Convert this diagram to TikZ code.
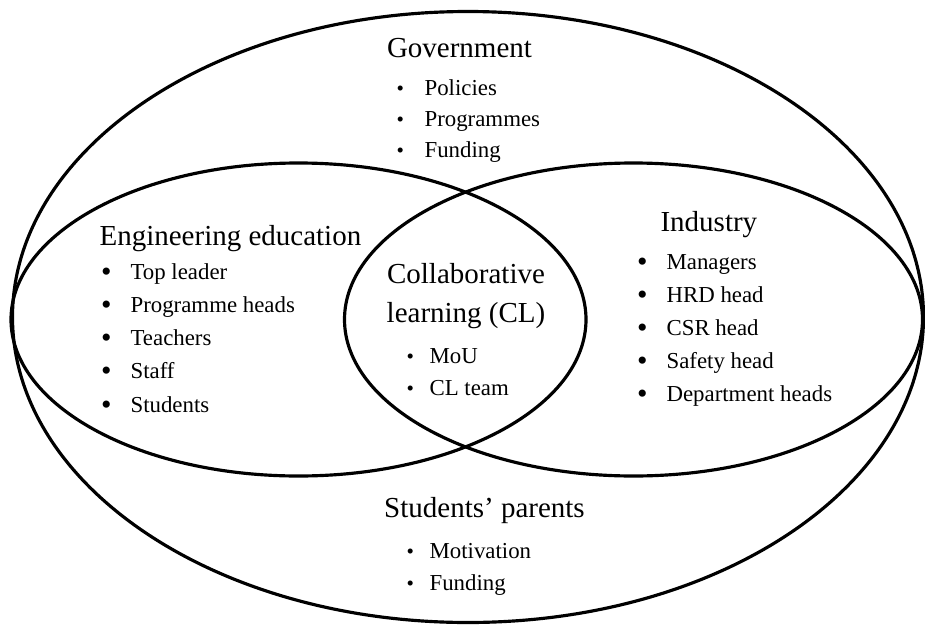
\documentclass[tikz,border=0pt]{standalone}
\usepackage{fontspec}
\setmainfont{Liberation Serif}
\newcommand{\headfont}{\fontsize{16.5}{19}\selectfont}
\newcommand{\itemfont}{\fontsize{13}{15}\selectfont}
\newcommand{\bigdot}{\llap{\raisebox{-0.04cm}{\fontsize{17}{17}\selectfont\textbullet}\hspace{0.38cm}}}
\newcommand{\smalldot}[1]{\llap{{\fontsize{12}{12}\selectfont\textbullet}\hspace{#1}}}
\tikzset{
    head/.style={inner sep=0pt, anchor=base, font=\headfont},
    entry/.style={inner sep=0pt, anchor=base west, font=\itemfont},
}
\begin{document}
\begin{tikzpicture}[line width=1.8pt]
        \useasboundingbox (0,0) rectangle (18.5,12.6);
        % outer ellipse and the two overlapping ones
        \draw (9.36,6.26) ellipse [x radius=9.11, y radius=6.11];
        \draw (5.97,6.21) ellipse [x radius=5.75, y radius=3.13];
        \draw (12.67,6.21) ellipse [x radius=5.78, y radius=3.13];
        % government
        \node (gov) at (9.19,11.46)[head] {Government};
        \foreach \t [count=\i] in {Policies, Programmes, Funding}
        {
            \node (gov\i) at (8.46, {10.70-(\i-1)*0.62})[entry] {\smalldot{0.41cm}\t};
        }
        % engineering education
        \node (edu) at (1.96,7.69)[head, anchor=base west] {Engineering education};
        \foreach \t [count=\i] in {Top leader, Programme heads, Teachers, Staff, Students}
        {
            \node (edu\i) at (2.58, {7.02-(\i-1)*0.666})[entry] {\bigdot\t};
        }
        % industry
        \node (ind) at (13.18,7.97)[head, anchor=base west] {Industry};
        \foreach \t [count=\i] in {Managers, HRD head, CSR head, Safety head, Department heads}
        {
            \node (ind\i) at (13.30, {7.22-(\i-1)*0.66})[entry] {\bigdot\t};
        }
        % collaborative learning
        \node (cl) at (9.32,6.94)[head] {Collaborative};
        \node (cl0) at (9.32,6.16)[head] {learning (CL)};
        \foreach \t [count=\i] in {MoU, CL team}
        {
            \node (cl\i) at (8.56, {5.34-(\i-1)*0.64})[entry] {\smalldot{0.31cm}\t};
        }
        % students' parents
        \node (par) at (9.69,2.26)[head] {Students’ parents};
        \foreach \t [count=\i] in {Motivation, Funding}
        {
            \node (par\i) at (8.56, {1.44-(\i-1)*0.64})[entry] {\smalldot{0.31cm}\t};
        }
\end{tikzpicture}
\end{document}
